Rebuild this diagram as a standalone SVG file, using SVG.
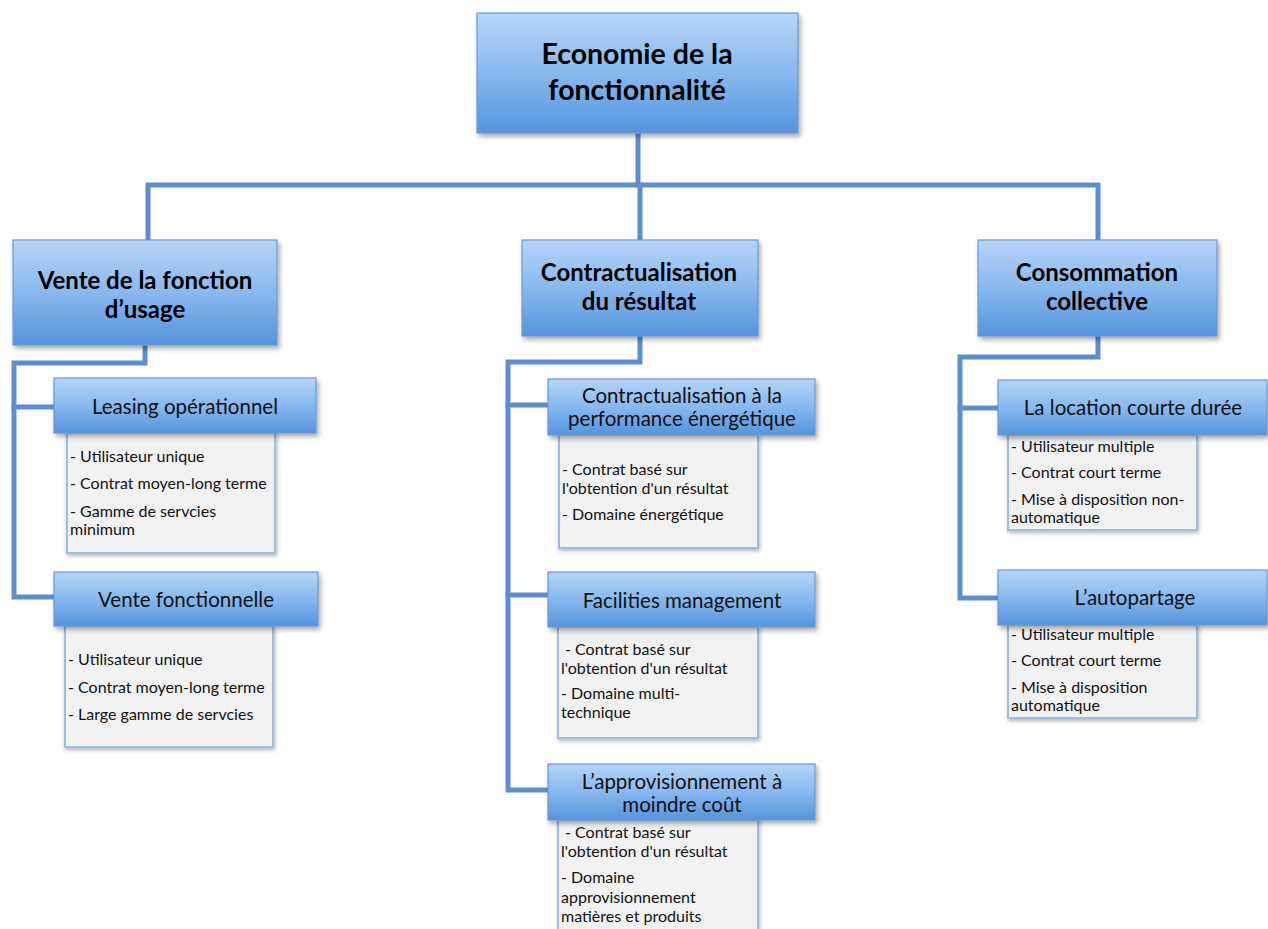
<svg xmlns="http://www.w3.org/2000/svg" width="1268" height="929" viewBox="0 0 1268 929">
<defs>
<linearGradient id="g" x1="0" y1="0" x2="0" y2="1">
<stop offset="0" stop-color="#b5d5f8"/>
<stop offset="0.5" stop-color="#88b8ee"/>
<stop offset="1" stop-color="#5594dc"/>
</linearGradient>
<filter id="sh" x="-10%" y="-10%" width="125%" height="130%">
<feDropShadow dx="2" dy="3" stdDeviation="2.5" flood-color="#000" flood-opacity="0.35"/>
</filter>
<filter id="sh2" x="-10%" y="-10%" width="125%" height="130%">
<feDropShadow dx="1" dy="2" stdDeviation="2" flood-color="#000" flood-opacity="0.3"/>
</filter>
</defs>
<style>
.hb{fill:url(#g);stroke:#6a9ad6;stroke-width:1.2;filter:url(#sh)}
.db{fill:#f2f2f2;stroke:#9dbde6;stroke-width:2;filter:url(#sh2)}
.t1{font-family:Lato,"Open Sans",sans-serif;font-weight:bold;font-size:28.5px;fill:#000;text-anchor:middle}
.t2{font-family:Lato,"Open Sans",sans-serif;font-weight:bold;font-size:24px;fill:#000;text-anchor:middle}
.t3{font-family:Lato,"Open Sans",sans-serif;font-size:20.5px;fill:#111;text-anchor:middle}
.d{font-family:Lato,"Open Sans",sans-serif;font-size:16px;fill:#111}
.c{fill:none;stroke:#5b8fd0;stroke-width:5;stroke-linejoin:miter;stroke-linecap:square}
</style>
<rect width="1268" height="929" fill="#fff"/>
<g id="connectors">
<path class="c" d="M638,133 V185"/>
<path class="c" d="M148,240 V185 H1098 V240"/>
<path class="c" d="M640,185 V240"/>
<path class="c" d="M145,345 V363 H14 V597 H54"/>
<path class="c" d="M14,407 H54"/>
<path class="c" d="M640,336 V362 H508 V790 H548"/>
<path class="c" d="M508,405 H548"/>
<path class="c" d="M508,595 H548"/>
<path class="c" d="M1098,336 V357 H960 V598 H998"/>
<path class="c" d="M960,408 H998"/>
</g>
<g id="root">
<rect class="hb" x="477" y="13" width="321" height="120"/>
<text class="t1" x="637" y="64">Economie de la</text>
<text class="t1" x="637" y="100">fonctionnalité</text>
</g>
<g id="vente-usage">
<rect class="hb" x="13" y="240" width="264" height="105"/>
<text class="t2" x="145" y="289">Vente de la fonction</text>
<text class="t2" x="145" y="318">d’usage</text>
</g>
<g id="contractualisation">
<rect class="hb" x="522" y="240" width="236" height="96"/>
<text class="t2" x="639" y="281">Contractualisation</text>
<text class="t2" x="639" y="310">du résultat</text>
</g>
<g id="consommation">
<rect class="hb" x="978" y="240" width="239" height="96"/>
<text class="t2" x="1097" y="281">Consommation</text>
<text class="t2" x="1097" y="310">collective</text>
</g>
<g id="leasing">
<rect class="db" x="67" y="433" width="208" height="120"/>
<text class="d" x="70" y="462">- Utilisateur unique</text>
<text class="d" x="70" y="489">- Contrat moyen-long terme</text>
<text class="d" x="70" y="517">- Gamme de servcies</text>
<text class="d" x="70" y="535">minimum</text>
<rect class="hb" x="54" y="378" width="262" height="55"/>
<text class="t3" x="185" y="414">Leasing opérationnel</text>
</g>
<g id="vente-fonctionnelle">
<rect class="db" x="65" y="626" width="208" height="121"/>
<text class="d" x="68" y="665">- Utilisateur unique</text>
<text class="d" x="68" y="693">- Contrat moyen-long terme</text>
<text class="d" x="68" y="720">- Large gamme de servcies</text>
<rect class="hb" x="54" y="572" width="264" height="54"/>
<text class="t3" x="186" y="607">Vente fonctionnelle</text>
</g>
<g id="cpe">
<rect class="db" x="559" y="435" width="199" height="113"/>
<text class="d" x="562" y="475">- Contrat basé sur</text>
<text class="d" x="562" y="494">l'obtention d'un résultat</text>
<text class="d" x="562" y="520">- Domaine énergétique</text>
<rect class="hb" x="548" y="379" width="267" height="56"/>
<text class="t3" x="682" y="403">Contractualisation à la</text>
<text class="t3" x="682" y="426">performance énergétique</text>
</g>
<g id="facilities">
<rect class="db" x="558" y="627" width="200" height="111"/>
<text class="d" x="565" y="655">- Contrat basé sur</text>
<text class="d" x="561" y="674">l'obtention d'un résultat</text>
<text class="d" x="561" y="699">- Domaine multi-</text>
<text class="d" x="561" y="718">technique</text>
<rect class="hb" x="548" y="572" width="267" height="55"/>
<text class="t3" x="682" y="608">Facilities management</text>
</g>
<g id="approvisionnement">
<rect class="db" x="558" y="820" width="200" height="125"/>
<text class="d" x="565" y="838">- Contrat basé sur</text>
<text class="d" x="561" y="857">l'obtention d'un résultat</text>
<text class="d" x="561" y="883">- Domaine</text>
<text class="d" x="561" y="903">approvisionnement</text>
<text class="d" x="561" y="922">matières et produits</text>
<rect class="hb" x="548" y="764" width="267" height="56"/>
<text class="t3" x="682" y="789">L’approvisionnement à</text>
<text class="t3" x="682" y="812">moindre coût</text>
</g>
<g id="location">
<rect class="db" x="1008" y="435" width="189" height="95"/>
<text class="d" x="1011" y="452">- Utilisateur multiple</text>
<text class="d" x="1011" y="478">- Contrat court terme</text>
<text class="d" x="1011" y="505">- Mise à disposition non-</text>
<text class="d" x="1011" y="523">automatique</text>
<rect class="hb" x="998" y="380" width="269" height="55"/>
<text class="t3" x="1133" y="415">La location courte durée</text>
</g>
<g id="autopartage">
<rect class="db" x="1008" y="625" width="189" height="93"/>
<text class="d" x="1011" y="640">- Utilisateur multiple</text>
<text class="d" x="1011" y="666">- Contrat court terme</text>
<text class="d" x="1011" y="693">- Mise à disposition</text>
<text class="d" x="1011" y="711">automatique</text>
<rect class="hb" x="998" y="570" width="269" height="55"/>
<text class="t3" x="1135" y="605">L’autopartage</text>
</g>
</svg>
